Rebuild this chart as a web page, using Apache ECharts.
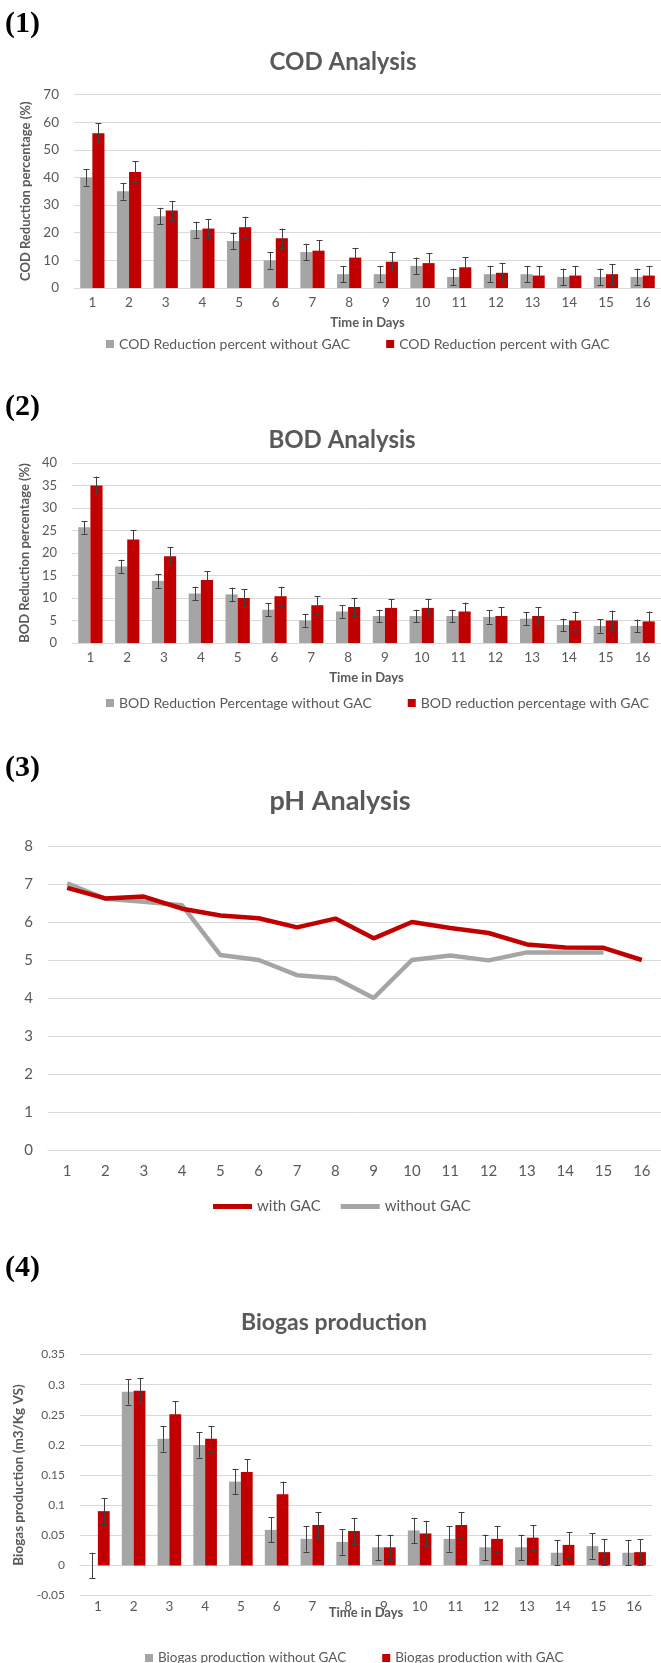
<!DOCTYPE html>
<html><head><meta charset="utf-8">
<script src="https://cdn.jsdelivr.net/npm/echarts@6/dist/echarts.min.js"></script>
<style>html,body{margin:0;padding:0;background:#fff}#c{width:661px;height:1663px}</style>
</head><body><div id="c"></div>
<script>
const days = ['1','2','3','4','5','6','7','8','9','10','11','12','13','14','15','16'];

const codWithout    = [40, 35, 26, 21, 17, 10, 13, 5, 5, 8, 4, 5, 5, 4, 4, 4];
const codWithoutErr = [3, 3, 3, 3, 3, 3, 3, 3, 3, 3, 3, 3, 3, 3, 3, 3];
const codWith       = [56, 42, 28, 21.5, 22, 18, 13.5, 11, 9.5, 9, 7.5, 5.5, 4.5, 4.5, 5, 4.5];
const codWithErr    = [3.6, 3.8, 3.5, 3.5, 3.8, 3.5, 3.8, 3.5, 3.5, 3.5, 3.7, 3.6, 3.5, 3.5, 3.7, 3.5];

const bodWithout    = [25.7, 17, 13.8, 11, 10.8, 7.4, 5, 7, 6, 6, 6, 5.8, 5.4, 4, 3.8, 3.8];
const bodWithoutErr = [1.4, 1.5, 1.5, 1.5, 1.5, 1.4, 1.4, 1.4, 1.4, 1.4, 1.4, 1.5, 1.4, 1.4, 1.5, 1.4];
const bodWith       = [35, 23, 19.3, 14, 10, 10.4, 8.4, 8, 7.8, 7.8, 7, 6, 6, 5, 5, 4.8];
const bodWithErr    = [2, 2.1, 2, 1.9, 2, 2.1, 2, 2, 2, 2, 2, 2, 2, 2, 2.2, 2.2];

const phWith    = [6.9, 6.62, 6.67, 6.35, 6.17, 6.1, 5.86, 6.09, 5.57, 6.0, 5.84, 5.71, 5.41, 5.33, 5.32, 5.0];
const phWithout = [7.02, 6.61, 6.53, 6.44, 5.13, 5.0, 4.6, 4.52, 4.0, 5.0, 5.12, 4.99, 5.2, 5.2, 5.2, null];

const bioWithout    = [0, 0.288, 0.21, 0.2, 0.139, 0.059, 0.044, 0.039, 0.03, 0.058, 0.044, 0.03, 0.03, 0.021, 0.032, 0.021];
const bioWithoutErr = [0.021, 0.021, 0.021, 0.021, 0.021, 0.021, 0.021, 0.021, 0.021, 0.021, 0.021, 0.021, 0.021, 0.021, 0.021, 0.021];
const bioWith       = [0.09, 0.29, 0.251, 0.21, 0.155, 0.118, 0.067, 0.057, 0.03, 0.053, 0.067, 0.044, 0.046, 0.034, 0.022, 0.022];
const bioWithErr    = [0.021, 0.021, 0.021, 0.021, 0.021, 0.021, 0.021, 0.021, 0.021, 0.021, 0.021, 0.021, 0.021, 0.021, 0.021, 0.021];

const GRAY = '#A5A5A5', RED = '#C00000', TXT = '#595959', GRID = '#D9D9D9', ERR = '#404040';
const FONT = 'Lato';
const BARFRAC = 0.33;

const chart = echarts.init(document.getElementById('c'), null, {renderer: 'canvas'});

function errSeries(name, values, errs, idx, side) {
  return {
    type: 'custom', name: name, xAxisIndex: idx, yAxisIndex: idx, z: 5, silent: true,
    encode: {x: 0, y: [1, 2]},
    data: values.map((v, i) => [i, v - errs[i], v + errs[i]]),
    renderItem: function (params, api) {
      const x = api.value(0);
      const lo = api.coord([x, api.value(1)]);
      const hi = api.coord([x, api.value(2)]);
      const band = api.size([1, 0])[0];
      const cx = Math.round(lo[0] + side * band * BARFRAC / 2) + 0.5;
      const cap = 3;
      const st = {stroke: ERR, lineWidth: 1};
      return {type: 'group', children: [
        {type: 'line', shape: {x1: cx, y1: lo[1], x2: cx, y2: hi[1]}, style: st},
        {type: 'line', shape: {x1: cx - cap, y1: Math.round(lo[1]) + 0.5, x2: cx + cap, y2: Math.round(lo[1]) + 0.5}, style: st},
        {type: 'line', shape: {x1: cx - cap, y1: Math.round(hi[1]) + 0.5, x2: cx + cap, y2: Math.round(hi[1]) + 0.5}, style: st}
      ]};
    }
  };
}

function xAx(idx, fs, name, gap, extra) {
  return Object.assign({
    type: 'category', gridIndex: idx, data: days,
    axisLine: {lineStyle: {color: GRID}}, axisTick: {show: false},
    axisLabel: {color: TXT, fontFamily: FONT, fontSize: fs, margin: 8},
    name: name, nameLocation: 'middle', nameGap: gap,
    nameTextStyle: {color: TXT, fontFamily: FONT, fontSize: 13, fontWeight: 'bold'}
  }, extra || {});
}
function yAx(idx, min, max, step, fs, name, gap, fmt, nameFs) {
  return {
    type: 'value', gridIndex: idx, min: min, max: max, interval: step,
    axisLine: {show: false}, axisTick: {show: false},
    splitLine: {lineStyle: {color: GRID, width: 1}},
    axisLabel: {color: TXT, fontFamily: FONT, fontSize: fs, margin: 15, formatter: fmt},
    name: name, nameLocation: 'middle', nameGap: gap, nameRotate: 90,
    nameTextStyle: {color: TXT, fontFamily: FONT, fontSize: nameFs || 13, fontWeight: 'bold'}
  };
}
function txt(t, x, y, font, fill, align) {
  return {type: 'text', x: x, y: y, silent: true,
    style: {text: t, font: font, fill: fill,
      textAlign: align || 'center', align: align || 'center',
      textVerticalAlign: 'middle', verticalAlign: 'middle'}};
}
function barLegend(names, left, top, fs) {
  return {show: true, data: names, left: left, top: top, icon: 'rect', itemWidth: 8, itemHeight: 8,
    itemGap: 36, padding: 0, selectedMode: false,
    textStyle: {color: TXT, fontFamily: FONT, fontSize: fs}};
}

const n1a = 'COD Reduction percent without GAC', n1b = 'COD Reduction percent with GAC';
const n2a = 'BOD Reduction Percentage without GAC', n2b = 'BOD reduction percentage with GAC';
const n3a = 'with GAC', n3b = 'without GAC';
const n4a = 'Biogas production without GAC', n4b = 'Biogas production with GAC';

function barPair(idx, na, va, nb, vb) {
  return [
    {type: 'bar', name: na, xAxisIndex: idx, yAxisIndex: idx, data: va, barWidth: (BARFRAC * 100) + '%', barGap: '0%', itemStyle: {color: GRAY}, silent: true},
    {type: 'bar', name: nb, xAxisIndex: idx, yAxisIndex: idx, data: vb, barWidth: (BARFRAC * 100) + '%', barGap: '0%', itemStyle: {color: RED}, silent: true}
  ];
}

const option = {
  animation: false,
  backgroundColor: '#ffffff',
  grid: [
    {left: 74, top: 94.5, width: 594, height: 193.5},
    {left: 72, top: 463, width: 589, height: 180},
    {left: 48, top: 846, width: 621, height: 304},
    {left: 80, top: 1354.5, width: 572, height: 241}
  ],
  xAxis: [
    xAx(0, 13.5, 'Time in Days', 28),
    xAx(1, 13.5, 'Time in Days', 28),
    xAx(2, 15, '', 0, {axisLabel: {color: TXT, fontFamily: FONT, fontSize: 15, margin: 14}}),
    xAx(3, 13.5, '', 0, {axisLine: {onZero: true, lineStyle: {color: GRID}},
      axisLabel: {color: TXT, fontFamily: FONT, fontSize: 13.5, margin: 4}})
  ],
  yAxis: [
    yAx(0, 0, 70, 10, 13.5, 'COD Reduction percentage (%)', 35),
    yAx(1, 0, 40, 5, 13, 'BOD Reduction percentage (%)', 32),
    yAx(2, 0, 8, 1, 15, '', 0),
    yAx(3, -0.05, 0.35, 0.05, 12, 'Biogas production (m3/Kg VS)', 38, v => String(+v.toFixed(2)), 13.5)
  ],
  legend: [
    barLegend([n1a, n1b], 106, 337, 14),
    barLegend([n2a, n2b], 106, 696, 14),
    {show: true, data: [n3a, n3b], left: 213, top: 1199, icon: 'rect', itemWidth: 39, itemHeight: 5,
      itemGap: 20, padding: 0, selectedMode: false,
      textStyle: {color: TXT, fontFamily: FONT, fontSize: 15}},
    barLegend([n4a, n4b], 145, 1651, 13.5)
  ],
  graphic: [
    txt('(1)', 5, 24, 'bold 30px "Liberation Serif"', '#000', 'left'),
    txt('COD Analysis', 343, 62, 'bold 24px Lato', TXT),
    txt('(2)', 5, 407, 'bold 30px "Liberation Serif"', '#000', 'left'),
    txt('BOD Analysis', 342, 440, 'bold 24px Lato', TXT),
    txt('(3)', 5, 768, 'bold 30px "Liberation Serif"', '#000', 'left'),
    txt('pH Analysis', 340, 801, 'bold 27px Lato', TXT),
    txt('(4)', 5, 1268, 'bold 30px "Liberation Serif"', '#000', 'left'),
    txt('Biogas production', 334, 1323, 'bold 23px Lato', TXT),
    txt('Time in Days', 366, 1613, 'bold 13px Lato', TXT)
  ],
  series: [
    ...barPair(0, n1a, codWithout, n1b, codWith),
    errSeries('e1a', codWithout, codWithoutErr, 0, -1),
    errSeries('e1b', codWith, codWithErr, 0, 1),
    ...barPair(1, n2a, bodWithout, n2b, bodWith),
    errSeries('e2a', bodWithout, bodWithoutErr, 1, -1),
    errSeries('e2b', bodWith, bodWithErr, 1, 1),
    {type: 'line', name: n3a, xAxisIndex: 2, yAxisIndex: 2, data: phWith, symbol: 'none', z: 3,
      lineStyle: {color: RED, width: 4.5}, itemStyle: {color: RED}, silent: true},
    {type: 'line', name: n3b, xAxisIndex: 2, yAxisIndex: 2, data: phWithout, symbol: 'none', z: 2,
      lineStyle: {color: GRAY, width: 4.5}, itemStyle: {color: GRAY}, silent: true},
    ...barPair(3, n4a, bioWithout, n4b, bioWith),
    errSeries('e4a', bioWithout, bioWithoutErr, 3, -1),
    errSeries('e4b', bioWith, bioWithErr, 3, 1)
  ]
};
chart.setOption(option);
</script>
</body></html>
